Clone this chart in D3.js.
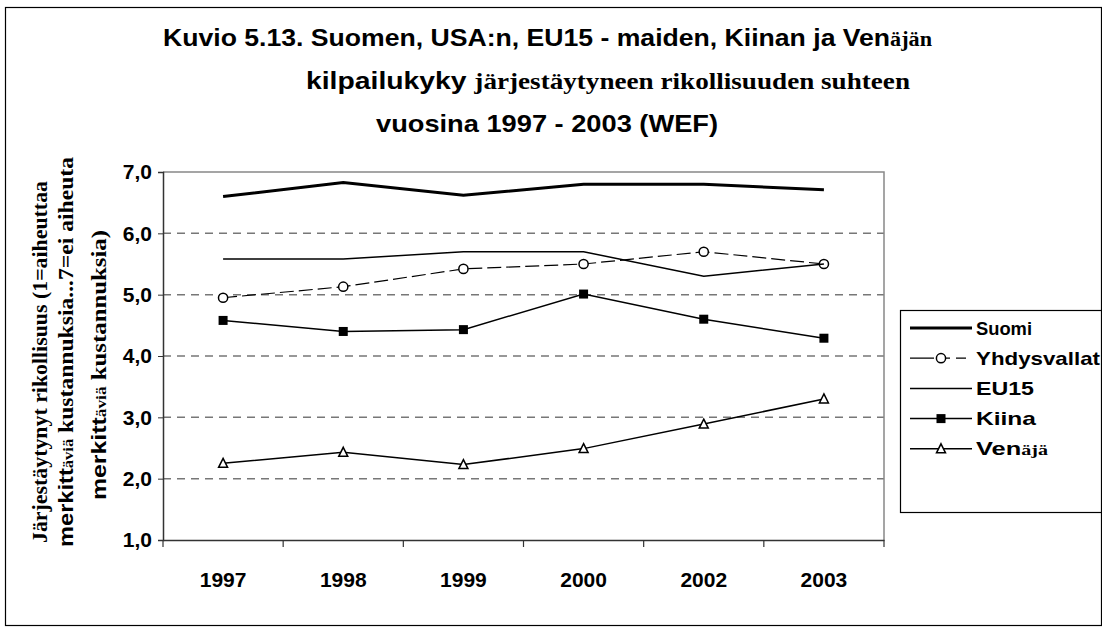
<!DOCTYPE html>
<html>
<head>
<meta charset="utf-8">
<script src="https://cdn.jsdelivr.net/npm/d3@7"></script>
<style>
  body { margin: 0; background: #fff; }
  svg { display: block; }
  .sans { font-family: "Liberation Sans", Arial, sans-serif; font-weight: bold; }
  .serif { font-family: "Liberation Serif", "Times New Roman", serif; font-weight: bold; }
</style>
</head>
<body>
<svg id="chart" width="1102" height="627"></svg>
<script>
// Survey years on the category axis
const years = ["1997", "1998", "1999", "2000", "2002", "2003"];

// Scores 1..7 per country
const suomi       = [6.60, 6.83, 6.62, 6.80, 6.80, 6.71];
const yhdysvallat = [4.95, 5.13, 5.42, 5.50, 5.70, 5.50];
const eu15        = [5.58, 5.58, 5.70, 5.70, 5.30, 5.50];
const kiina       = [4.58, 4.40, 4.43, 5.01, 4.60, 4.29];
const venaja      = [2.25, 2.43, 2.23, 2.49, 2.89, 3.30];

const yTicks = [1, 2, 3, 4, 5, 6, 7];
const gridValues = [2, 3, 4, 5, 6];

const series = [
  { name: "Suomi", values: suomi, width: 3, dash: null, marker: null },
  { name: "Yhdysvallat", values: yhdysvallat, width: 1.2, dash: "14,5", marker: "circle" },
  { name: "EU15", values: eu15, width: 1.5, dash: null, marker: null },
  { name: "Kiina", values: kiina, width: 1.5, dash: null, marker: "square" },
  { name: "Venäjä", values: venaja, width: 1.5, dash: null, marker: "triangle" }
];

const svg = d3.select("#chart");

// Outer frame
svg.append("rect")
  .attr("x", 5.5).attr("y", 7.5)
  .attr("width", 1096).attr("height", 618)
  .attr("fill", "none").attr("stroke", "#000").attr("stroke-width", 1.2);

const plot = { left: 163, right: 884, top: 172, bottom: 540 };

const x = d3.scaleBand().domain(years).range([plot.left, plot.right]).padding(0);
const y = d3.scaleLinear().domain([1, 7]).range([plot.bottom, plot.top]);
const cx = d => x(d) + x.bandwidth() / 2;

// Dashed gridlines
svg.append("g").selectAll("line")
  .data(gridValues).join("line")
  .attr("x1", plot.left).attr("x2", plot.right)
  .attr("y1", d => y(d)).attr("y2", d => y(d))
  .attr("stroke", "#777").attr("stroke-width", 1.5)
  .attr("stroke-dasharray", "8,6");

// Plot area border (top and right in grey)
svg.append("path")
  .attr("d", `M${plot.left},${y(7)}H${plot.right}V${plot.bottom}`)
  .attr("fill", "none").attr("stroke", "#888").attr("stroke-width", 1.5);

// Y axis
const yAxis = d3.axisLeft(y).tickValues(yTicks).tickSize(5).tickPadding(6)
  .tickFormat(d => d3.format(".1f")(d).replace(".", ","));
const gy = svg.append("g").attr("transform", `translate(${plot.left},0)`).call(yAxis);
gy.select(".domain").attr("stroke", "#333").attr("stroke-width", 1.5);
gy.selectAll(".tick line").attr("stroke", "#333");
gy.selectAll(".tick text").attr("class", "sans").attr("font-size", 21).attr("fill", "#000");

// X axis: labels centered in bands, ticks at band boundaries
const xAxis = d3.axisBottom(x).tickSize(0).tickPadding(32);
const gx = svg.append("g").attr("transform", `translate(0,${plot.bottom})`).call(xAxis);
gx.select(".domain").attr("stroke", "#333").attr("stroke-width", 1.5);
gx.selectAll(".tick text").attr("class", "sans").attr("font-size", 21).attr("fill", "#000");
const boundaries = years.map(d => x(d)).concat([plot.right]);
svg.append("g").selectAll("line")
  .data(boundaries).join("line")
  .attr("x1", d => d).attr("x2", d => d)
  .attr("y1", plot.bottom).attr("y2", plot.bottom + 7)
  .attr("stroke", "#333").attr("stroke-width", 1.2);

// Marker drawing helper
function drawMarker(g, type, px, py) {
  if (type === "circle") {
    g.append("circle").attr("cx", px).attr("cy", py).attr("r", 4.6)
      .attr("fill", "#fff").attr("stroke", "#000").attr("stroke-width", 1.5);
  } else if (type === "square") {
    g.append("rect").attr("x", px - 4.5).attr("y", py - 4.5)
      .attr("width", 9).attr("height", 9).attr("fill", "#000");
  } else if (type === "triangle") {
    g.append("path")
      .attr("d", `M${px},${py - 5}L${px + 4.5},${py + 4}L${px - 4.5},${py + 4}Z`)
      .attr("fill", "#fff").attr("stroke", "#000").attr("stroke-width", 1.5);
  }
}

const line = d3.line().x((d, i) => cx(years[i])).y(d => y(d));

series.forEach(s => {
  const g = svg.append("g");
  g.append("path")
    .attr("d", line(s.values))
    .attr("fill", "none").attr("stroke", "#000")
    .attr("stroke-width", s.width)
    .attr("stroke-dasharray", s.dash);
  if (s.marker) {
    s.values.forEach((v, i) => drawMarker(g, s.marker, cx(years[i]), y(v)));
  }
});

// Legend
const legendWidths = { "Suomi": 56, "Yhdysvallat": 124, "EU15": 58, "Kiina": 60, "Venäjä": 72 };
const legend = svg.append("g");
legend.append("rect")
  .attr("x", 900.5).attr("y", 310.5).attr("width", 201).attr("height", 202)
  .attr("fill", "#fff").attr("stroke", "#000").attr("stroke-width", 1.2);
series.forEach((s, i) => {
  const ly = 328 + i * 30.2;
  legend.append("line")
    .attr("x1", 910).attr("x2", 972).attr("y1", ly).attr("y2", ly)
    .attr("stroke", "#000").attr("stroke-width", s.width)
    .attr("stroke-dasharray", s.dash ? "24,12,4,6,10,20" : null);
  if (s.marker) drawMarker(legend, s.marker, 941, ly);
  const t = legend.append("text").attr("x", 976).attr("y", ly + 6.5)
    .attr("class", "sans").attr("font-size", 19)
    .attr("textLength", legendWidths[s.name]).attr("lengthAdjust", "spacingAndGlyphs");
  if (s.name === "Venäjä") {
    t.append("tspan").text("Ven");
    t.append("tspan").attr("class", "serif").attr("font-size", 15).text("äjä");
  } else {
    t.text(s.name);
  }
});

// Title (three lines, mixed fonts)
const title = svg.append("g");
const t1 = title.append("text").attr("x", 163).attr("y", 46).attr("class", "sans").attr("font-size", 24)
  .attr("textLength", 769).attr("lengthAdjust", "spacingAndGlyphs");
t1.append("tspan").text("Kuvio 5.13. Suomen, USA:n, EU15 - maiden, Kiinan ja Ven");
t1.append("tspan").attr("class", "serif").attr("font-size", 20).text("äjän");
const t2 = title.append("text").attr("x", 306).attr("y", 89).attr("class", "sans").attr("font-size", 24)
  .attr("textLength", 604).attr("lengthAdjust", "spacingAndGlyphs");
t2.append("tspan").text("kilpailukyky ");
t2.append("tspan").attr("class", "serif").attr("font-size", 23).text("järjestäytyneen rikollisuuden suhteen");
title.append("text").attr("x", 376).attr("y", 132).attr("class", "sans").attr("font-size", 24)
  .attr("textLength", 342).attr("lengthAdjust", "spacingAndGlyphs")
  .text("vuosina 1997 - 2003 (WEF)");

// Y-axis title (rotated, three columns)
const yl = svg.append("g");
const c1 = yl.append("text").attr("transform", "translate(47,362) rotate(-90)")
  .attr("text-anchor", "middle").attr("class", "serif").attr("font-size", 20)
  .attr("textLength", 362).attr("lengthAdjust", "spacingAndGlyphs");
c1.append("tspan").text("Järjestäytynyt rikollisuus (1=aiheuttaa");
const c2 = yl.append("text").attr("transform", "translate(73,352) rotate(-90)")
  .attr("text-anchor", "middle").attr("class", "serif").attr("font-size", 20)
  .attr("textLength", 390).attr("lengthAdjust", "spacingAndGlyphs");
c2.append("tspan").attr("class", "sans").text("merkitt");
c2.append("tspan").attr("font-size", 14).text("äviä");
c2.append("tspan").text(" kustannuksia...7=ei aiheuta");
const c3 = yl.append("text").attr("transform", "translate(106,365) rotate(-90)")
  .attr("text-anchor", "middle").attr("class", "serif").attr("font-size", 20)
  .attr("textLength", 270).attr("lengthAdjust", "spacingAndGlyphs");
c3.append("tspan").attr("class", "sans").text("merkitt");
c3.append("tspan").attr("font-size", 14).text("äviä");
c3.append("tspan").text(" kustannuksia)");
</script>
</body>
</html>
